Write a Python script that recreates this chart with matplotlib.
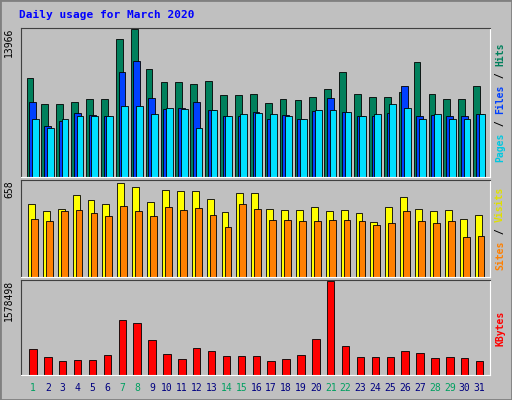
import matplotlib
matplotlib.use("Agg")
import matplotlib.pyplot as plt
import numpy as np

days = list(range(1, 32))
weekend = [1, 7, 8, 14, 15, 21, 22, 28, 29]
hits = [9310, 6840, 6840, 7030, 7315, 7315, 13015, 13966, 10165, 8930, 8930, 8740, 9025, 7695, 7695,
        7790, 6935, 7315, 7220, 7505, 8265, 9880, 7790, 7505, 7505, 7980, 10830, 7790, 7315, 7315, 8550]
files = [7030, 4845, 5320, 5985, 5795, 5700, 9880, 10925, 7410, 6365, 6460, 7030, 6270, 5700, 5700,
         6080, 5510, 5795, 5510, 6175, 7410, 6080, 5700, 5700, 5985, 8550, 5700, 5795, 5700, 5700, 5890]
pages = [5510, 4655, 5510, 5700, 5700, 5700, 6650, 6650, 5890, 6460, 6365, 4655, 6270, 5700, 5890,
         5985, 5890, 5700, 5510, 6270, 6270, 6080, 5700, 5890, 6840, 6460, 5510, 5890, 5510, 5510, 5890]
visits = [493, 446, 459, 555, 521, 493, 637, 610, 507, 589, 583, 583, 528, 439, 569,
          569, 459, 452, 452, 473, 446, 452, 432, 370, 473, 541, 459, 446, 452, 391, 418]
sites = [391, 377, 446, 452, 432, 411, 480, 446, 411, 473, 452, 466, 418, 336, 493,
         459, 384, 384, 377, 377, 384, 384, 377, 350, 363, 446, 377, 363, 377, 274, 281]
kbytes = [428950, 308840, 240210, 257370, 257370, 343160, 926530, 875060, 583370, 360320, 274530,
          446110, 394630, 326000, 326000, 326000, 240210, 274530, 343160, 600530, 1578498, 480420,
          308840, 308840, 308840, 394630, 377480, 291690, 308840, 291690, 240210]
visit_scale = 658

W, H = 512, 400
fig = plt.figure(figsize=(W/100, H/100), dpi=100, facecolor="#C0C0C0")
fig.add_artist(plt.Rectangle((0, 0), 1, 1, transform=fig.transFigure, fill=False, ec="#808080", lw=2))

def mkax(top, bot):
    ax = fig.add_axes([21/W, 1-bot/H, (490-21)/W, (bot-top)/H])
    ax.set_facecolor("#C0C0C0")
    ax.set_xlim(0.2, 31.7)
    ax.set_xticks([]); ax.set_yticks([])
    for s in ["left", "top"]:
        ax.spines[s].set_color("#404040")
    for s in ["right", "bottom"]:
        ax.spines[s].set_color("white")
    return ax

x = np.array(days)
bw = 0.46
ax1 = mkax(28, 177)
ax1.bar(x-0.2, hits, bw, color="#00805C", ec="black", lw=0.6)
ax1.bar(x-0.02, files, bw, color="#0040FF", ec="black", lw=0.6)
ax1.bar(x+0.16, pages, bw, color="#00E0FF", ec="black", lw=0.6)
ax1.set_ylim(0, max(hits)*1.005)

ax2 = mkax(180, 277)
ax2.bar(x-0.1, visits, bw, color="#FFFF00", ec="black", lw=0.6)
ax2.bar(x+0.1, sites, bw, color="#FF8000", ec="black", lw=0.6)
ax2.set_ylim(0, visit_scale)

ax3 = mkax(280, 375)
ax3.bar(x, kbytes, 0.5, color="#FF0000", ec="black", lw=0.6)
ax3.set_ylim(0, max(kbytes)*1.01)

mono = "DejaVu Sans Mono"
fig.text(19/W, 1-15/H, "Daily usage for March 2020", color="#0000FF", fontsize=8, weight="bold",
         family=mono, va="center")
for val, ytop in [(max(hits), 28), (visit_scale, 180), (max(kbytes), 280)]:
    fig.text(9/W, 1-ytop/H, str(val), rotation=90, fontsize=7, family=mono, ha="center", va="top",
             color="black")

def vlabel(parts, ycenter):
    total = sum(len(p[0]) for p in parts)
    cw = 6.0
    y = ycenter - total*cw/2
    for t, c in parts:
        fig.text(500/W, y/H, t, rotation=90, fontsize=7, family=mono, weight="bold", color=c,
                 ha="center", va="bottom")
        y += len(t)*cw

vlabel([("Pages", "#00C8E0"), (" / ", "black"), ("Files", "#0040FF"), (" / ", "black"), ("Hits", "#00805C")],
       H-(28+177)/2)
vlabel([("Sites", "#FF8000"), (" / ", "black"), ("Visits", "#E0E000")], H-(180+277)/2)
vlabel([("KBytes", "#FF0000")], H-(280+375)/2)

for d in days:
    px = 21 + (d-0.2)/(31.5)*(490-21)
    fig.text(px/W, 1-388/H, str(d), fontsize=7, family=mono, ha="center", va="center",
             color="#00A060" if d in weekend else "#000080")

fig.savefig("out.png", dpi=100, facecolor=fig.get_facecolor())
